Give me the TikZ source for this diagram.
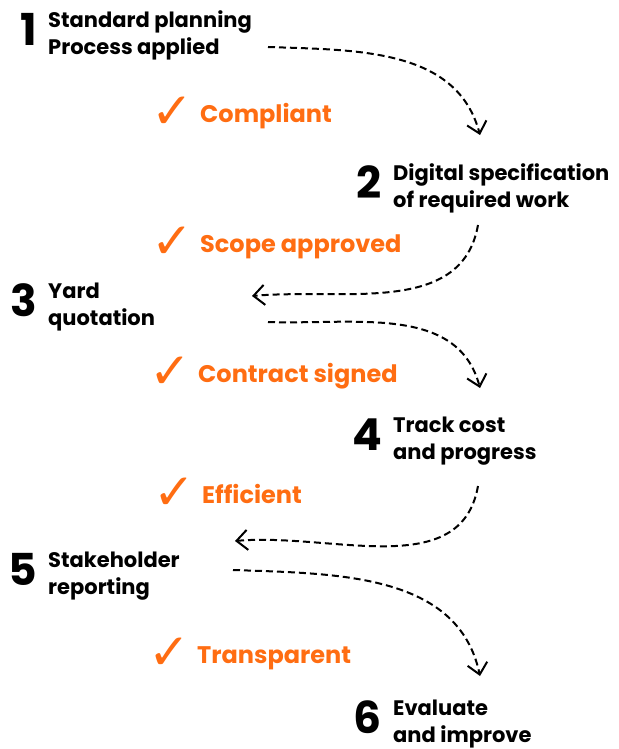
\documentclass[tikz,border=0pt]{standalone}
\usepackage{fontspec}
\setmainfont{Poppins}
\newfontfamily\symfont{DejaVu Sans Bold}
\usetikzlibrary{arrows.meta,positioning}
\definecolor{gateorange}{HTML}{FF6D12}
\newcommand{\tickmark}{\makebox[45pt][l]{\hspace*{-4pt}\raisebox{-6pt}{\symfont\fontsize{50}{50}\selectfont ✓}}}

\begin{document}
\begin{tikzpicture}[x=1pt,y=1pt,
    steptext/.style={anchor=base west,align=left,inner sep=0pt,
      font=\bfseries\fontsize{21}{27}\selectfont},
    stepnum/.style={anchor=base east,inner sep=0pt,
      font=\bfseries\fontsize{44}{44}\selectfont},
    gate/.style={anchor=base west,inner sep=0pt,text=gateorange,
      font=\bfseries\fontsize{24}{30}\selectfont},
    flow/.style={line width=2pt,dash pattern=on 7pt off 4pt,
      -{Straight Barb[length=11pt,width=20pt,line width=2pt]}}]
    \useasboundingbox (0,0) rectangle (618,-749);

    % Steps (base = last line)
    \node[steptext] (s1) at (48,-55) {Standard planning\\Process applied};
    \node[steptext] (s2) at (393,-207) {Digital specification\\of required work};
    \node[steptext] (s3) at (48,-325) {Yard\\quotation};
    \node[steptext] (s4) at (393,-459) {Track cost\\and progress};
    \node[steptext] (s5) at (48,-594) {Stakeholder\\reporting};
    \node[steptext] (s6) at (393,-742) {Evaluate\\and improve};

    % Step numbers
    \foreach \i in {1,...,6} {
        \node[stepnum] (n\i) at ([shift={(-11pt,9pt)}]s\i.base west) {\i};
    }

    % Gates between steps
    \node[gate] (g1) at (155,-122) {\tickmark Compliant};
    \node[gate] (g2) at (155,-252) {\tickmark Scope approved};
    \node[gate] (g3) at (153,-382) {\tickmark Contract signed};
    \node[gate] (g4) at (157,-503) {\tickmark Efficient};
    \node[gate] (g5) at (152,-663) {\tickmark Transparent};

    % Flow arrows
    \draw[flow] ([shift={(220pt,8pt)}]s1.base west)
        to[out=-2,in=105] ([shift={(87pt,72pt)}]s2.base west);
    \draw[flow] ([shift={(85pt,-18pt)}]s2.base west)
        to[out=-100,in=5] ([shift={(204pt,29pt)}]s3.base west);
    \draw[flow] ([shift={(220pt,3pt)}]s3.base west)
        to[out=-2,in=105] ([shift={(87pt,71pt)}]s4.base west);
    \draw[flow] ([shift={(85pt,-27pt)}]s4.base west)
        to[out=-100,in=5] ([shift={(187pt,53pt)}]s5.base west);
    \draw[flow] ([shift={(185pt,24pt)}]s5.base west)
        to[out=-2,in=102] ([shift={(87pt,66pt)}]s6.base west);
\end{tikzpicture}
\end{document}
